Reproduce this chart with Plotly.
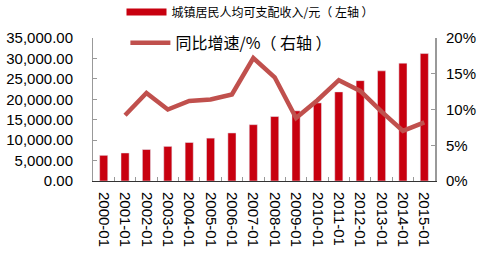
import plotly.graph_objects as go

categories = ["2000-01","2001-01","2002-01","2003-01","2004-01","2005-01","2006-01","2007-01",
              "2008-01","2009-01","2010-01","2011-01","2012-01","2013-01","2014-01","2015-01"]
income = [6280, 6860, 7703, 8472, 9422, 10493, 11759, 13786, 15781, 17175, 19109, 21810,
          24565, 26955, 28844, 31195]
growth = [None, 9.2, 12.3, 10.0, 11.2, 11.4, 12.1, 17.2, 14.5, 8.8, 11.3, 14.1, 12.6, 9.7, 7.0, 8.2]
left_ticks = [0, 5000, 10000, 15000, 20000, 25000, 30000, 35000]
right_ticks = [0, 5, 10, 15, 20]

font_fam = "Liberation Sans, Arial, Noto Sans CJK SC, sans-serif"
cjk = "Noto Sans CJK SC, sans-serif"
bar_color = "#C8000F"
line_color = "#C0504D"

fig = go.Figure()
fig.add_trace(go.Bar(x=categories, y=income, name="城镇居民人均可支配收入/元（左轴）",
                     marker=dict(color=bar_color), showlegend=False))
# legend proxy for bars (wide rectangular swatch)
fig.add_trace(go.Scatter(x=[None], y=[None], name="城镇居民人均可支配收入/元（ 左轴 ）",
                         mode="lines", line=dict(color=bar_color, width=7), legend="legend"))
fig.add_trace(go.Scatter(x=categories, y=growth, name="同比增速/%（ 右轴 ）", mode="lines",
                         line=dict(color=line_color, width=4.5), yaxis="y2", legend="legend2"))

fig.update_layout(
    width=486, height=254,
    margin=dict(l=93, r=51, t=38, b=73, autoexpand=False),
    paper_bgcolor="white", plot_bgcolor="white",
    font=dict(family=font_fam, color="#000"),
    bargap=0.62,
    showlegend=True,
    legend=dict(x=0.25, y=0.953, xref="container", yref="container",
                xanchor="left", yanchor="middle", bgcolor="rgba(0,0,0,0)",
                itemwidth=40, font=dict(size=12, family=cjk)),
    legend2=dict(x=0.258, y=0.831, xref="container", yref="container",
                 xanchor="left", yanchor="middle", bgcolor="rgba(0,0,0,0)",
                 itemwidth=40, font=dict(size=16, family=cjk)),
    xaxis=dict(type="category", tickangle=90, tickfont=dict(size=15), ticklabelstandoff=7,
               automargin=False,
               showline=True, linecolor="#333", linewidth=1, ticks="inside",
               ticklen=4, tickcolor="#999", showgrid=False, tickson="boundaries"),
    yaxis=dict(range=[0, 35000], tickvals=left_ticks, ticklabelstandoff=16, automargin=False,
               ticktext=[f"{v:,.2f}" for v in left_ticks], tickfont=dict(size=15),
               showline=True, linecolor="#999", linewidth=1, ticks="inside", ticklen=4,
               tickcolor="#999", showgrid=False, zeroline=False),
    yaxis2=dict(range=[0, 20], tickvals=right_ticks, ticktext=[f"{v}%" for v in right_ticks],
                overlaying="y", side="right", tickfont=dict(size=15), ticklabelstandoff=6,
                automargin=False,
                showline=True, linecolor="#999", linewidth=2, ticks="inside", ticklen=4,
                tickcolor="#999", showgrid=False, zeroline=False),
)

fig.write_html("out.html")
